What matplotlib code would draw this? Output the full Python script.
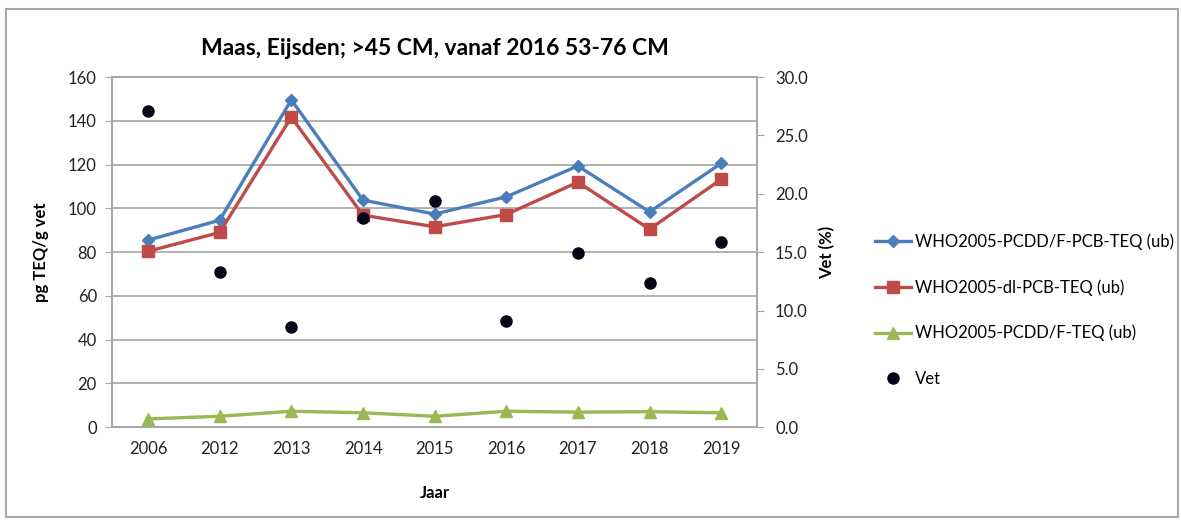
import matplotlib
matplotlib.use('Agg')
import matplotlib.pyplot as plt
from matplotlib.patches import Rectangle
import numpy as np

plt.rcParams['font.family'] = ['Lato', 'DejaVu Sans']

# gegevens
jaren = ['2006', '2012', '2013', '2014', '2015', '2016', '2017', '2018', '2019']
totaal_teq = [85.5, 94.6, 149.6, 103.8, 97.4, 105.3, 119.4, 98.4, 120.6]
dl_pcb_teq = [80.4, 89.0, 141.7, 96.9, 91.6, 97.2, 112.0, 90.5, 113.3]
pcdd_f_teq = [3.8, 5.0, 7.3, 6.6, 5.0, 7.3, 6.9, 7.1, 6.6]
vet = [27.1, 13.3, 8.6, 17.9, 19.4, 9.1, 14.9, 12.4, 15.9]

blauw = '#4A7EBB'
rood = '#BE4B48'
groen = '#98B954'
grijs = '#A6A6A6'

fig = plt.figure(figsize=(11.81, 5.21), dpi=100)
ax = fig.add_axes([0.095, 0.180, 0.546, 0.672])
ax2 = ax.twinx()

x = np.arange(len(jaren))
l1, = ax.plot(x, totaal_teq, color=blauw, lw=2.4, marker='D', ms=6.5, label='WHO2005-PCDD/F-PCB-TEQ (ub)')
l2, = ax.plot(x, dl_pcb_teq, color=rood, lw=2.4, marker='s', ms=8, label='WHO2005-dl-PCB-TEQ (ub)')
l3, = ax.plot(x, pcdd_f_teq, color=groen, lw=2.4, marker='^', ms=8.5, label='WHO2005-PCDD/F-TEQ (ub)')
l4, = ax2.plot(x, vet, ls='none', marker='o', ms=8, color='#05051A', label='Vet')

ax.set_xlim(-0.5, len(jaren) - 0.5)
ax.set_ylim(0, 160)
ax.set_yticks(range(0, 161, 20))
ax2.set_ylim(0, 30)
ax2.set_yticks(np.arange(0, 30.1, 5))
ax2.set_yticklabels([f'{v:.1f}' for v in np.arange(0, 30.1, 5)])
ax.set_xticks(x)
ax.set_xticklabels(jaren)

ax.grid(axis='y', color=grijs, lw=1.2)
ax.set_axisbelow(True)
for a in (ax, ax2):
    for s in a.spines.values():
        s.set_color(grijs)
        s.set_linewidth(1.2)
ax.tick_params(axis='x', length=0, labelsize=12, pad=10, colors='#222222')
ax.tick_params(axis='y', length=5, labelsize=12, pad=6, colors='#222222')
ax2.tick_params(axis='y', length=5, labelsize=12, pad=8, colors='#222222')
for a in (ax, ax2):
    a.tick_params(axis='y', color=grijs)

ax.set_ylabel('pg TEQ/g vet', fontsize=12, fontweight='bold', labelpad=14)
ax2.set_ylabel('Vet (%)', fontsize=12, fontweight='bold', labelpad=8)
ax.set_xlabel('Jaar', fontsize=12, fontweight='bold', labelpad=20)
ax.set_title('Maas, Eijsden; >45 CM, vanaf 2016 53-76 CM', fontsize=16.5, fontweight='bold', pad=16)

fig.legend(handles=[l1, l2, l3, l4], loc='center left', bbox_to_anchor=(0.728, 0.405),
           frameon=False, fontsize=12, labelspacing=1.75, handlelength=2.2, handletextpad=0.2)

# kader om de grafiek
fig.add_artist(Rectangle((6 / 1181, 1 - 517 / 521), 1172 / 1181, 508 / 521,
                         transform=fig.transFigure, fill=False, ec=grijs, lw=1.5))

fig.savefig('out.png', dpi=100)
